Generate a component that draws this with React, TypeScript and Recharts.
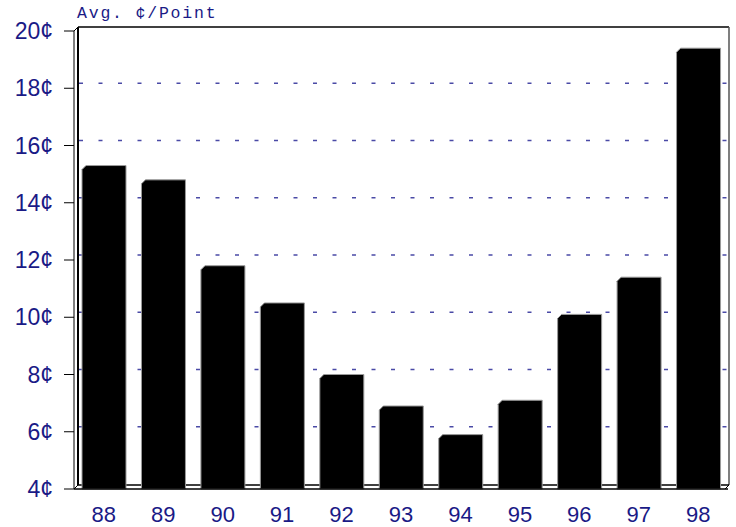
import { BarChart, Bar, XAxis, YAxis, CartesianGrid } from 'recharts'

const years = ['88', '89', '90', '91', '92', '93', '94', '95', '96', '97', '98']
const avgCents = [15.3, 14.8, 11.8, 10.5, 8.0, 6.9, 5.9, 7.1, 10.1, 11.4, 19.4]
const yTicks = [4, 6, 8, 10, 12, 14, 16, 18, 20]
const gridValues = [6, 8, 10, 12, 14, 16, 18]

const W = 736
const H = 527
const X_AXIS_H = 38
const M = { top: 31, right: 8, left: 0, bottom: 0 }
const AXIS_W = 74
const DEPTH = 4
const NAVY = '#1a1a86'

const data = years.map((y, i) => ({ year: y, value: avgCents[i] }))

function Bar3D(props: any) {
  const { x, y, width, height } = props
  if (height <= 0) return null
  const c = DEPTH
  const pts = `${x},${y + c} ${x + c},${y} ${x + width},${y} ${x + width},${y + height} ${x},${y + height}`
  return <polygon points={pts} fill="#000" stroke="#9a9a9a" strokeWidth={1} />
}

export default function App() {
  const left = M.left + AXIS_W
  const right = W - M.right
  const top = M.top
  const bottom = H - M.bottom - X_AXIS_H
  return (
    <div style={{ position: 'absolute', left: 0, top: 0, width: W, height: H, background: '#fff' }}>
      <svg width={W} height={H} style={{ position: 'absolute', left: 0, top: 0 }}>
        {/* back wall + floor */}
        <line x1={left + DEPTH} y1={top - DEPTH} x2={left + DEPTH} y2={bottom - DEPTH} stroke="#000" strokeWidth={2} />
        <line x1={left + DEPTH} y1={top - DEPTH} x2={right + 1} y2={top - DEPTH} stroke="#000" strokeWidth={1.5} />
        <line x1={right + 1} y1={top - DEPTH} x2={right + 1} y2={bottom - DEPTH} stroke="#555" strokeWidth={1.5} />
        <line x1={left + DEPTH} y1={bottom - DEPTH} x2={right + 1} y2={bottom - DEPTH} stroke="#000" strokeWidth={1.5} />
        <line x1={left} y1={bottom} x2={left + DEPTH} y2={bottom - DEPTH} stroke="#000" strokeWidth={1} />
        <line x1={right - 3} y1={bottom} x2={right + 1} y2={bottom - DEPTH} stroke="#000" strokeWidth={1} />
        <line x1={left} y1={top} x2={left + DEPTH} y2={top - DEPTH} stroke="#000" strokeWidth={1} />
        <text x={77} y={18} fill={NAVY} fontFamily="'Liberation Mono', monospace" fontSize={16.5} letterSpacing={1.8}>
          Avg. ¢/Point
        </text>
      </svg>
      <BarChart
        width={W}
        height={H}
        data={data}
        margin={M}
        barSize={44}
        style={{ position: 'absolute', left: 0, top: 0 }}
      >
        <CartesianGrid
          horizontal
          vertical={false}
          x={left + DEPTH + 1}
          width={right - left - DEPTH}
          stroke="#4a4aa6"
          strokeWidth={1.5}
          strokeDasharray="4 15.5"
          horizontalCoordinatesGenerator={({ offset }: any) =>
            gridValues.map(v => offset.top + ((20 - v) / 16) * offset.height - DEPTH - 1)
          }
        />
        <XAxis
          dataKey="year"
          height={X_AXIS_H}
          axisLine={{ stroke: '#000', strokeWidth: 1.5 }}
          tickLine={false}
          tickMargin={11}
          tick={{ fill: NAVY, fontSize: 22, fontFamily: "'Liberation Sans', Arial, sans-serif" }}
        />
        <YAxis
          width={AXIS_W}
          domain={[4, 20]}
          ticks={yTicks}
          interval={0}
          tickFormatter={(v: number) => `${v}¢`}
          axisLine={{ stroke: '#000' }}
          tickLine={{ stroke: '#000' }}
          tickSize={10}
          tickMargin={11}
          tick={{ fill: NAVY, fontSize: 23, fontFamily: "'Liberation Sans', Arial, sans-serif" }}
        />
        <Bar dataKey="value" shape={<Bar3D />} isAnimationActive={false} />
      </BarChart>
    </div>
  )
}
